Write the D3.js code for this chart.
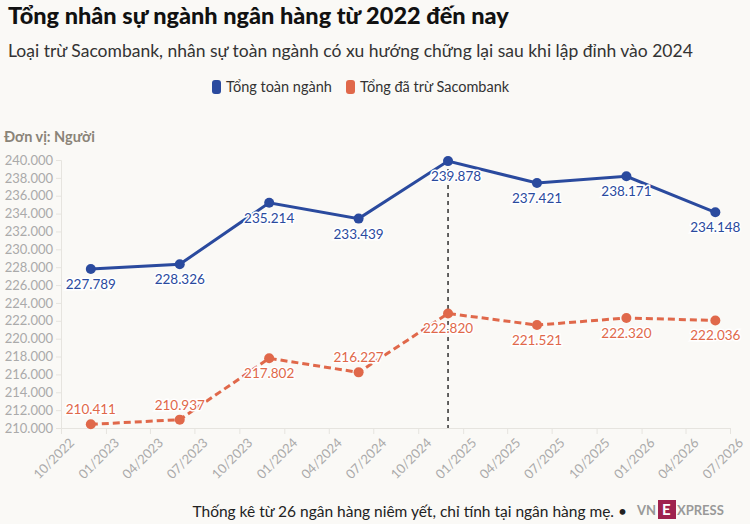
<!DOCTYPE html>
<html><head><meta charset="utf-8">
<script src="https://cdn.jsdelivr.net/npm/d3@7"></script>
<style>body{margin:0;background:#faf9f6;font-family:Lato,"Noto Sans",sans-serif}svg text{font-family:Lato,"Noto Sans",sans-serif}</style>
</head><body><svg id="c" width="750" height="524"></svg>
<script>
const dates = ["2022-12-01","2023-06-01","2023-12-01","2024-06-01","2024-12-01","2025-06-01","2025-12-01","2026-06-01"];
const total = [227789,228326,235214,233439,239878,237421,238171,234148];
const exSacom = [210411,210937,217802,216227,222820,221521,222320,222036];
const yTicks = d3.range(210000,240001,2000);
const xTickDates = d3.timeMonths(new Date(2022,9,1), new Date(2026,7,1), 3);
const markerDate = "2024-12-01";

const parse = d3.timeParse("%Y-%m-%d");
const svg = d3.select("#c");
const fmt = v => d3.format(",")(v).replace(/,/g,".");
const x = d3.scaleTime().domain([new Date(2022,9,1), new Date(2026,6,1)]).range([61,730]);
const y = d3.scaleLinear().domain([210000,240000]).range([428,160]);

svg.append("text").attr("x",8).attr("y",24).attr("font-size",23.5).attr("font-weight",900).attr("fill","#111").text("Tổng nhân sự ngành ngân hàng từ 2022 đến nay");
svg.append("text").attr("x",8).attr("y",57).attr("font-size",17.5).attr("fill","#333").text("Loại trừ Sacombank, nhân sự toàn ngành có xu hướng chững lại sau khi lập đỉnh vào 2024");
const leg=[["Tổng toàn ngành","#2a4a9e",212],["Tổng đã trừ Sacombank","#e0684a",346]];
leg.forEach(l=>{svg.append("rect").attr("x",l[2]).attr("y",80).attr("width",9).attr("height",14).attr("rx",3).attr("fill",l[1]);
svg.append("text").attr("x",l[2]+14).attr("y",92).attr("font-size",14.5).attr("fill","#333").text(l[0]);});
svg.append("text").attr("x",4).attr("y",142).attr("font-size",14.5).attr("font-weight",700).attr("fill","#8a8478").text("Đơn vị: Người");

const ya = svg.append("g").attr("transform","translate(61,0)").call(d3.axisLeft(y).tickValues(yTicks).tickFormat(fmt).tickSize(5));
ya.select(".domain").attr("stroke","#e6e4df");
ya.selectAll("line").attr("stroke","#e6e4df");
ya.selectAll("text").attr("fill","#aaa").attr("font-size",13);
const xa = svg.append("g").attr("transform","translate(0,428)").call(d3.axisBottom(x).tickValues(xTickDates).tickFormat(d3.timeFormat("%m/%Y")).tickSize(6));
xa.select(".domain").attr("stroke","#e6e4df");
xa.selectAll("line").attr("stroke","#e6e4df");
xa.selectAll("text").attr("fill","#aaa").attr("font-size",13)
  .attr("text-anchor","end").attr("transform","translate(4,6) rotate(-45)").attr("dy","0.35em").attr("dx","0");

const md = x(parse(markerDate));
svg.append("line").attr("x1",md).attr("x2",md).attr("y1",y(239878)).attr("y2",428).attr("stroke","#111").attr("stroke-dasharray","4,4").attr("stroke-width",1.3);

const line = d3.line().x(d=>x(parse(d[0]))).y(d=>y(d[1]));
function series(vals,color,dash,pos){
  const pts = dates.map((d,i)=>[d,vals[i]]);
  svg.append("path").attr("d",line(pts)).attr("fill","none").attr("stroke",color).attr("stroke-width",3).attr("stroke-dasharray",dash);
  svg.selectAll(null).data(pts).enter().append("circle").attr("cx",d=>x(parse(d[0]))).attr("cy",d=>y(d[1])).attr("r",5).attr("fill",color);
  svg.selectAll(null).data(pts).enter().append("text")
    .attr("x",(d,i)=>x(parse(d[0]))+(i==4&&color=="#2a4a9e"?8:0)).attr("y",(d,i)=>y(d[1])+(pos[i]>0?20:-10))
    .attr("text-anchor","middle").attr("font-size",13.5).attr("fill",color)
    .attr("stroke","#fff").attr("stroke-width",3).attr("paint-order","stroke").text(d=>fmt(d[1]));
}
series(total,"#2a4a9e",null,[1,1,1,1,1,1,1,1]);
series(exSacom,"#e0684a","7,4",[-1,-1,1,-1,1,1,1,1]);

svg.append("text").attr("x",627).attr("y",517).attr("text-anchor","end").attr("font-size",15.5).attr("fill","#222").text("Thống kê từ 26 ngân hàng niêm yết, chỉ tính tại ngân hàng mẹ. •");
svg.append("text").attr("x",637).attr("y",515).attr("font-size",13).attr("fill","#999").attr("font-weight",700).text("VN");
svg.append("rect").attr("x",658).attr("y",500).attr("width",18).attr("height",19).attr("fill","#9f224e");
svg.append("text").attr("x",662).attr("y",515).attr("font-size",15).attr("fill","#fff").attr("font-weight",700).text("E");
svg.append("text").attr("x",677).attr("y",515).attr("font-size",13).attr("fill","#999").attr("font-weight",700).text("XPRESS");
</script></body></html>
